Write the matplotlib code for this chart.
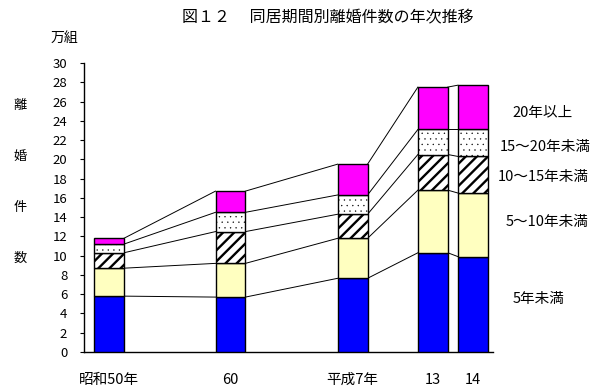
import matplotlib.pyplot as plt
import matplotlib.transforms as mtransforms
import numpy as np

plt.rcParams['font.family'] = ['Noto Sans CJK JP', 'DejaVu Sans']

# data (万組)
years = ['昭和50年', '60', '平成7年', '13', '14']
x_pos = [0, 10, 20.05, 26.65, 29.95]   # bar positions (years after 1975, roughly)
under5 = [5.8, 5.7, 7.65, 10.3, 9.9]
y5_10 = [2.9, 3.5, 4.15, 6.5, 6.6]
y10_15 = [1.6, 3.3, 2.5, 3.7, 3.8]
y15_20 = [0.9, 2.0, 2.0, 2.6, 2.8]
over20 = [0.6, 2.2, 3.2, 4.4, 4.6]

series = [under5, y5_10, y10_15, y15_20, over20]
labels = ['5年未満', '5～10年未満', '10～15年未満', '15～20年未満', '20年以上']
colors = ['#0000FF', '#FFFFC0', 'white', 'white', '#FF00FF']
hatches = [None, None, '///', '...', None]
hatch_lw = [1.0, 1.0, 1.7, 0.2, 1.0]

fig = plt.figure(figsize=(5.99, 3.9), dpi=100)
ax = fig.add_axes([84 / 599, 1 - 352 / 390, (493 - 84) / 599, (352 - 63) / 390])

width = 2.46
bottom = np.zeros(len(x_pos))
tops = []
for vals, c, h, hl in zip(series, colors, hatches, hatch_lw):
    plt.rcParams['hatch.linewidth'] = hl
    ax.bar(x_pos, vals, width, bottom=bottom, color=c, hatch=h,
           edgecolor='black', linewidth=1.0, zorder=3)
    bottom = bottom + np.array(vals)
    tops.append(bottom.copy())

# connecting lines between bars
for t in tops:
    for i in range(len(x_pos) - 1):
        ax.plot([x_pos[i] + width / 2, x_pos[i + 1] - width / 2], [t[i], t[i + 1]],
                color='black', linewidth=0.7, zorder=2)

ax.set_xlim(-2.05, 31.6)
ax.set_ylim(0, 30)
ax.set_yticks(range(0, 31, 2))
ax.set_xticks(x_pos)
ax.set_xticklabels(years, fontsize=10.5)
offset = mtransforms.ScaledTranslation(5 / 100, 0, fig.dpi_scale_trans)
for lbl in ax.get_xticklabels():
    lbl.set_transform(lbl.get_transform() + offset)
ax.tick_params(axis='x', length=0, pad=15)
ax.tick_params(axis='y', length=3, pad=9, labelsize=9.5, direction='out')
ax.spines['top'].set_visible(False)
ax.spines['right'].set_visible(False)
ax.spines['left'].set_linewidth(1.0)
ax.spines['bottom'].set_linewidth(1.0)

fig.text(328 / 599, 1 - 18 / 390, '図１２　 同居期間別離婚件数の年次推移', fontsize=11.5,
         ha='center', va='center')
fig.text(64 / 599, 1 - 38 / 390, '万組', fontsize=10, ha='center', va='center')
for ch, yy in zip('離婚件数', [106, 156, 207, 258]):
    fig.text(20 / 599, 1 - yy / 390, ch, fontsize=9.5, ha='center', va='center')

label_pos = [(539, 299), (547, 222), (543, 177), (545, 147), (543, 113)]
for lab, (lx, ly) in zip(labels, label_pos):
    fig.text(lx / 599, 1 - ly / 390, lab, fontsize=10.5, ha='center', va='center')

fig.savefig('out.png', dpi=100)
